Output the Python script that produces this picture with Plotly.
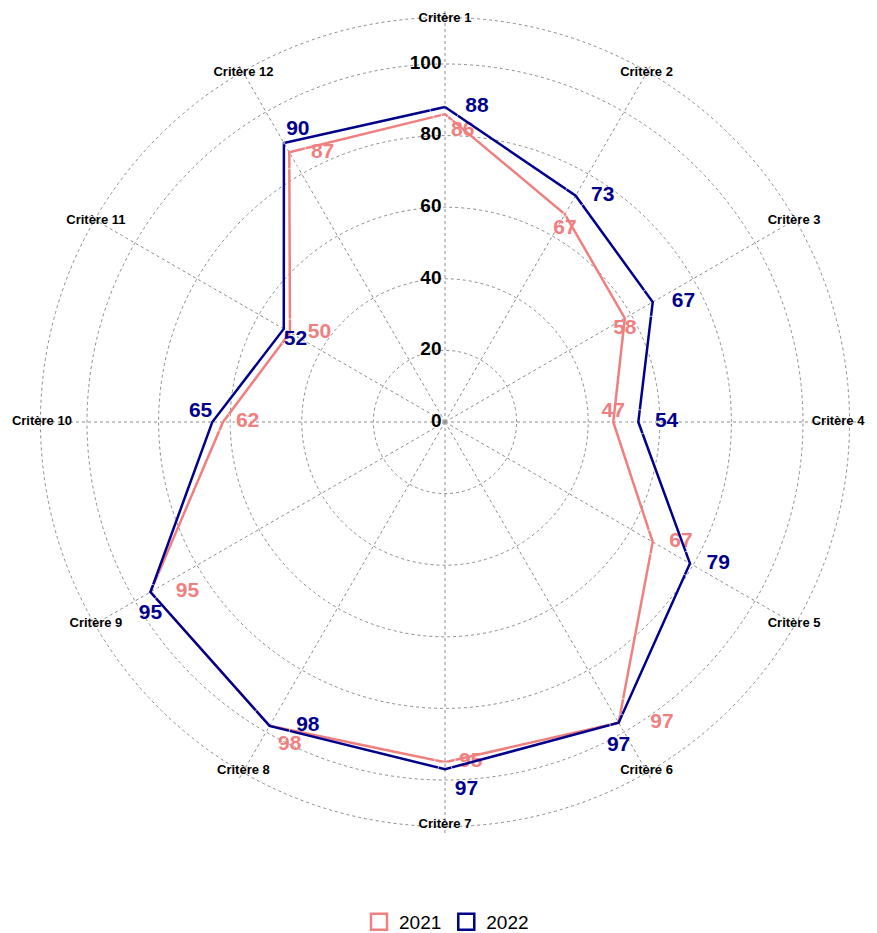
import plotly.graph_objects as go

categories = [f"Critère {i}" for i in range(1, 13)]
values_2021 = [86, 67, 58, 47, 67, 97, 95, 98, 95, 62, 50, 87]
values_2022 = [88, 73, 67, 54, 79, 97, 97, 98, 95, 65, 52, 90]
series_names = ["2021", "2022"]
tick_values = [0, 20, 40, 60, 80, 100]

colors = ["#F08080", "#00008B"]
FONT = "Liberation Sans, Arial"
OUTER = 113  # outer dashed circle where category labels sit
RMAX = 115
# radius of each category label (the right-most one nudged inward so it stays on the page)
label_r = [112.6, 112.6, 112.6, 109.8, 112.6, 112.6, 112.6, 112.6, 112.6, 112.6, 112.6, 112.6]

# label placement (style only)
pos_2021 = ["bottom right", "bottom center", "bottom center", "top center", "middle right",
            "middle right", "middle right", "bottom right", "middle right", "middle right",
            "middle right", "middle right"]
gap_2021 = [8, 4, 0, 0, 25, 49, 21, 12, 39, 19, 27, 33]
pos_2022 = ["middle right", "middle right", "middle right", "middle right", "middle right",
            "bottom center", "bottom right", "middle right", "bottom center", "top left",
            "bottom right", "top right"]
gap_2022 = [31, 23, 29, 25, 25, 18, 14, 41, 16, 0, 0, 2]

fig = go.Figure()

# category labels on the outer circle
fig.add_trace(go.Scatterpolar(
    r=label_r, theta=categories, mode="text", text=categories,
    textposition="middle center",
    textfont=dict(family=FONT, size=13, color="black", weight="bold"),
    showlegend=False, hoverinfo="skip", cliponaxis=False))

# radial tick labels along the Critère 1 axis
fig.add_trace(go.Scatterpolar(
    r=tick_values, theta=[categories[0]] * len(tick_values), mode="markers+text",
    text=[str(t) for t in tick_values], textposition="middle left",
    marker=dict(size=4, color="rgba(0,0,0,0)"),
    textfont=dict(family=FONT, size=19, color="black", weight="bold"),
    showlegend=False, hoverinfo="skip", cliponaxis=False))

for name, vals, col, pos, gap in [(series_names[0], values_2021, colors[0], pos_2021, gap_2021),
                                  (series_names[1], values_2022, colors[1], pos_2022, gap_2022)]:
    fig.add_trace(go.Scatterpolar(
        r=vals + [vals[0]], theta=categories + [categories[0]],
        mode="lines", line=dict(color=col, width=2.5),
        showlegend=False, hoverinfo="skip", cliponaxis=False))
    fig.add_trace(go.Scatterpolar(
        r=vals, theta=categories, mode="markers+text",
        text=[str(v) for v in vals], textposition=pos,
        marker=dict(size=gap, color="rgba(0,0,0,0)"),
        textfont=dict(family=FONT, size=21, color=col, weight="bold"),
        showlegend=False, hoverinfo="skip", cliponaxis=False))

for name, col in zip(series_names, colors):
    fig.add_trace(go.Scatterpolar(
        r=[None], theta=[categories[0]], mode="markers", name=name,
        marker=dict(symbol="square-open", size=18, color=col, line=dict(width=2.5, color=col))))

s = 3.58  # px per unit
cx, cy = 437, 414
rad = RMAX * s
fig.update_layout(
    width=877, height=933,
    margin=dict(l=0, r=0, t=0, b=0),
    paper_bgcolor="white", plot_bgcolor="white",
    font=dict(family=FONT, color="black"),
    polar=dict(
        domain=dict(x=[(cx - rad) / 877, (cx + rad) / 877],
                    y=[1 - (cy + rad) / 933, 1 - (cy - rad) / 933]),
        bgcolor="white",
        radialaxis=dict(range=[0, RMAX], tickvals=tick_values + [OUTER],
                        showticklabels=False, angle=90,
                        showline=False, ticks="",
                        gridcolor="#8c8c8c", griddash="3px,3px", gridwidth=1),
        angularaxis=dict(rotation=90, direction="clockwise", showline=False,
                         ticks="", showticklabels=False,
                         gridcolor="#8c8c8c", griddash="3px,3px", gridwidth=1),
    ),
    legend=dict(orientation="h", x=0.5, xanchor="center", y=0.0, yanchor="bottom",
                font=dict(size=19), itemsizing="trace"),
)
fig.write_html("out.html")
